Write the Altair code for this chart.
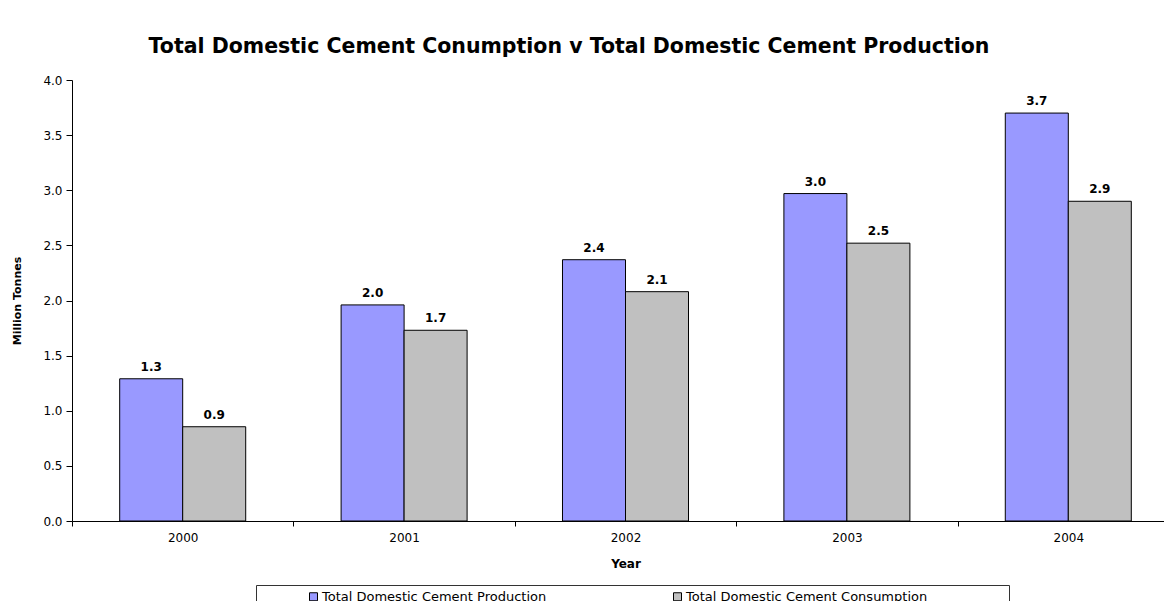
import altair as alt
import pandas as pd

years = ["2000", "2001", "2002", "2003", "2004"]
production = [1.29, 1.96, 2.37, 2.97, 3.70]
consumption = [0.855, 1.73, 2.08, 2.52, 2.90]
series = ["Total Domestic Cement Production", "Total Domestic Cement Consumption"]
colors = ["#9999FF", "#C0C0C0"]

rows = []
for i, y in enumerate(years):
    rows.append({"Year": y, "Series": series[0], "Value": production[i]})
    rows.append({"Year": y, "Series": series[1], "Value": consumption[i]})
df = pd.DataFrame(rows)

FONT = "DejaVu Sans"
STEP = 221.4

x = alt.X("Year:N", title="Year",
          scale=alt.Scale(paddingInner=0, paddingOuter=0, range=[0, 5 * STEP]),
          axis=alt.Axis(labelAngle=0, tickBand="extent", tickSize=5, labelPadding=6,
                        titlePadding=15, domainColor="black", tickColor="black",
                        labelColor="black", titleColor="black", labelFontSize=12,
                        titleFontSize=12, titleFontWeight="bold", labelFont=FONT,
                        titleFont=FONT))
xo = alt.XOffset("Series:N", sort=series,
                 scale=alt.Scale(paddingInner=0, paddingOuter=0.757))

BLANK = "\u2800" * 8

bars = alt.Chart(df).mark_bar(stroke="black", strokeWidth=1).encode(
    x=x,
    xOffset=xo,
    y=alt.Y("Value:Q", title="Million Tonnes",
            scale=alt.Scale(domain=[0, 4]),
            axis=alt.Axis(values=[0, 0.5, 1, 1.5, 2, 2.5, 3, 3.5, 4], format=".1f",
                          grid=False, tickSize=6, labelPadding=4, titlePadding=20,
                          domainColor="black", tickColor="black", labelColor="black",
                          titleColor="black", labelFontSize=12, titleFontSize=11,
                          titleFontWeight="bold", labelFont=FONT, titleFont=FONT)),
    color=alt.Color("Series:N", sort=series,
                    scale=alt.Scale(domain=series, range=colors),
                    legend=alt.Legend(title=None, orient="none", legendX=184, legendY=505,
                                      direction="horizontal", columns=2,
                                      strokeColor="#333333", padding=5,
                                      symbolType="square", symbolSize=64,
                                      symbolStrokeColor="black", symbolStrokeWidth=1,
                                      symbolOffset=46, labelOffset=2,
                                      columnPadding=78,
                                      labelFontSize=13, labelFont=FONT,
                                      labelColor="black", labelLimit=500,
                                      labelExpr="indexof(datum.label, 'Consumption') >= 0 ? datum.label + '" + BLANK + "' : datum.label")),
)

labels = alt.Chart(df).mark_text(dy=-5, baseline="bottom", fontWeight="bold",
                                 fontSize=12, font=FONT, color="black").encode(
    x=x,
    xOffset=xo,
    y="Value:Q",
    text=alt.Text("Value:Q", format=".1f"),
)

chart = (bars + labels).properties(
    width=1092,
    height=441,
    autosize=alt.AutoSizeParams(type="none"),
    padding={"left": 64, "top": 72, "right": 0, "bottom": 100},
    title=alt.TitleParams("Total Domestic Cement Conumption v Total Domestic Cement Production",
                          font=FONT, fontSize=20.5, fontWeight="bold", color="black",
                          anchor="middle", dx=-49, offset=17),
).configure_view(stroke=None)

chart.save("out.html", embed_options={"renderer": "svg", "actions": False})
